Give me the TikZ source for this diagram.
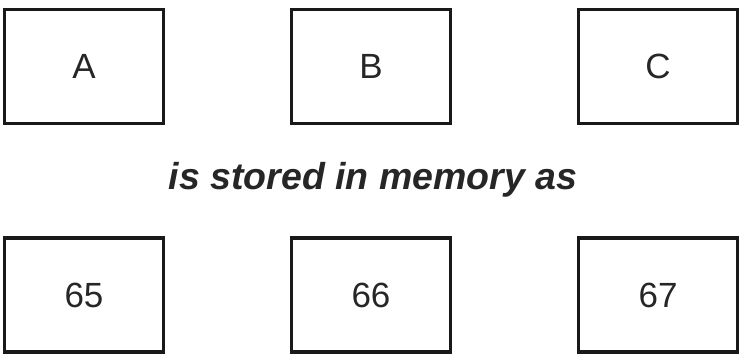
\documentclass[tikz,border=0pt]{standalone}
\usepackage{fontspec}
\setmainfont{Liberation Sans}
\begin{document}
\begin{tikzpicture}[x=1pt,y=1pt,
  cell/.style={draw=black!90, line width=3.2pt, minimum width=159pt, minimum height=114pt, inner sep=0pt, text=black!85, font=\fontsize{35}{38}\selectfont},
  caption/.style={text=black!85, font=\fontsize{37.5}{40}\selectfont\bfseries\itshape, inner sep=0pt}]
\useasboundingbox (0,0) rectangle (742,361);
\node[cell] (a) at (84,294.5) {A};
\node[cell] (b) at (371,294.5) {B};
\node[cell] (c) at (658,294.5) {C};
\node[caption, anchor=base] (t) at (373,171) {is stored in memory as};
\node[cell] (n65) at (84,066) {65};
\node[cell] (n66) at (371,066) {66};
\node[cell] (n67) at (658,066) {67};
\end{tikzpicture}
\end{document}
